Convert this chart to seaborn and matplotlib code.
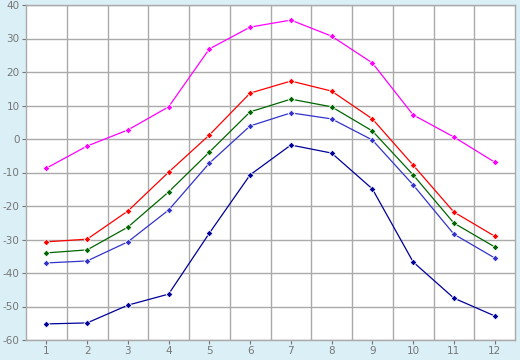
import pandas as pd
import matplotlib.pyplot as plt
import seaborn as sns

# monthly values
months = list(range(1, 13))
s_magenta = [-8.7, -2.1, 2.7, 9.6, 26.9, 33.4, 35.5, 30.7, 22.7, 7.2, 0.6, -6.9]
s_red = [-30.7, -29.9, -21.5, -9.9, 1.2, 13.7, 17.3, 14.3, 6.0, -7.8, -21.8, -29.0]
s_green = [-34.0, -33.1, -26.3, -15.8, -3.9, 8.1, 11.9, 9.6, 2.4, -10.7, -25.1, -32.2]
s_blue = [-37.0, -36.4, -30.7, -21.2, -7.2, 3.9, 7.8, 6.0, -0.3, -13.7, -28.4, -35.5]
s_navy = [-55.2, -54.9, -49.6, -46.3, -28.1, -10.7, -1.8, -4.2, -14.9, -36.7, -47.5, -52.8]

series = {'a': s_magenta, 'b': s_red, 'c': s_green, 'd': s_blue, 'e': s_navy}
colors = {'a': '#ff00ff', 'b': '#ff0000', 'c': '#006600', 'd': '#3333cc', 'e': '#000099'}

rows = []
for name, vals in series.items():
    for m, v in zip(months, vals):
        rows.append({'month': m, 'value': v, 'series': name})
df = pd.DataFrame(rows)

sns.set_theme(style="white")
plt.rcParams['axes.unicode_minus'] = False
bg = '#daeff6'
grid_c = '#aaaaaa'
text_c = '#777777'

fig = plt.figure(figsize=(5.2, 3.6), dpi=100, facecolor=bg)
ax = fig.add_axes([26 / 520, 20 / 360, 489 / 520, 335 / 360])
ax.set_facecolor('white')

sns.lineplot(data=df, x='month', y='value', hue='series', palette=colors,
             marker='D', markersize=3.5, markeredgewidth=0.6, linewidth=0.9,
             legend=False, ax=ax)

ax.set_xlim(0.5, 12.5)
ax.set_ylim(-60, 40)
ax.set_xticks(months)
ax.set_yticks(range(-60, 41, 10))
ax.set_xticks([m + 0.5 for m in months[:-1]], minor=True)
ax.grid(False)
ax.xaxis.grid(True, which='minor', color=grid_c, linewidth=1)
ax.yaxis.grid(True, which='major', color=grid_c, linewidth=1)
ax.set_axisbelow(True)
ax.tick_params(axis='both', which='major', labelsize=7.5, labelcolor=text_c,
               color=text_c, length=3, width=0.8, pad=1.5, left=True, bottom=True)
ax.tick_params(axis='x', which='minor', length=0)
ax.set_xlabel('')
ax.set_ylabel('')
for sp in ax.spines.values():
    sp.set_color(grid_c)
    sp.set_linewidth(1)

fig.savefig('out.png', dpi=100, facecolor=bg)
